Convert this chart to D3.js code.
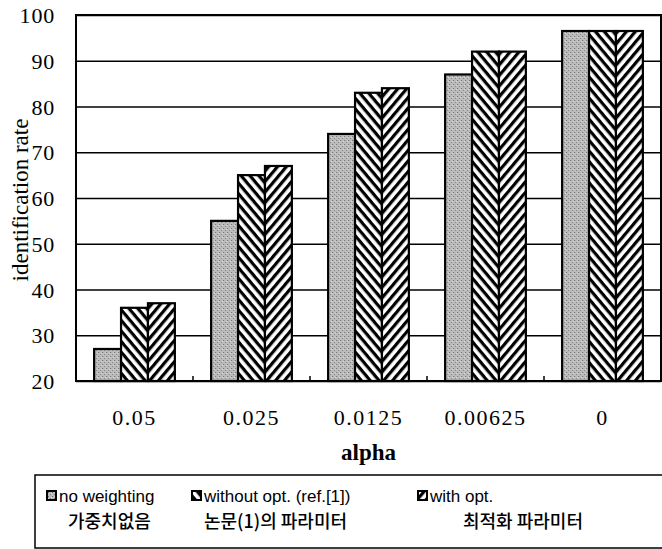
<!DOCTYPE html>
<html>
<head>
<meta charset="utf-8">
<script src="https://cdn.jsdelivr.net/npm/d3@7"></script>
<style>
  body { margin: 0; background: #fff; }
  svg { display: block; }
  .tick text { font-family: "Liberation Serif", "Times New Roman", serif; }
</style>
</head>
<body>
<div id="chart"></div>
<script>
// Data
var categories = ["0.05", "0.025", "0.0125", "0.00625", "0"];
var noWeighting = [27, 55, 74, 87, 96.5];
var withoutOpt = [36, 65, 83, 92, 96.5];
var withOpt = [37, 67, 84, 92, 96.5];
var yTicks = [20, 30, 40, 50, 60, 70, 80, 90, 100];
var seriesNames = ["noWeighting", "withoutOpt", "withOpt"];
var legendEn = ["no weighting", "without opt. (ref.[1])", "with opt."];
var legendKo = ["가중치없음", "논문(1)의 파라미터", "최적화 파라미터"];

// Setup
var W = 662, H = 549;
var plot = {left: 76, right: 661, top: 15, bottom: 381};

var svg = d3.select("#chart").append("svg")
    .attr("width", W)
    .attr("height", H);

// patterns
var defs = svg.append("defs");
function hatch(id, angle) {
    var p = defs.append("pattern")
        .attr("id", id)
        .attr("patternUnits", "userSpaceOnUse")
        .attr("width", 6.8)
        .attr("height", 6.8)
        .attr("patternTransform", "rotate(" + angle + ")");
    p.append("rect").attr("width", 6.8).attr("height", 6.8).attr("fill", "#fff");
    p.append("rect").attr("width", 6.8).attr("height", 3.2).attr("fill", "#000");
}
hatch("hatchBack", 50);    // "\" stripes
hatch("hatchFwd", -50);    // "/" stripes

// stippled grey like the scanned halftone
var dots = defs.append("pattern")
    .attr("id", "stipple")
    .attr("patternUnits", "userSpaceOnUse")
    .attr("width", 4)
    .attr("height", 4);
dots.append("rect").attr("width", 4).attr("height", 4).attr("fill", "#bcbcbc");
dots.append("rect").attr("x", 0).attr("y", 0).attr("width", 1).attr("height", 1).attr("fill", "#6e6e6e");
dots.append("rect").attr("x", 2).attr("y", 2).attr("width", 1).attr("height", 1).attr("fill", "#808080");
dots.append("rect").attr("x", 3).attr("y", 1).attr("width", 1).attr("height", 1).attr("fill", "#dedede");

var fills = {
    noWeighting: "url(#stipple)",
    withoutOpt: "url(#hatchBack)",
    withOpt: "url(#hatchFwd)"
};

// Scales
var x0 = d3.scaleBand()
    .domain(categories)
    .range([plot.left, plot.right])
    .paddingInner(0.31)
    .paddingOuter(0.155);

var x1 = d3.scaleBand()
    .domain(seriesNames)
    .range([0, x0.bandwidth()]);

var y = d3.scaleLinear()
    .domain([20, 100])
    .range([plot.bottom, plot.top]);

// Gridlines + y labels
var axisY = d3.axisLeft(y)
    .tickValues(yTicks)
    .tickSize(-(plot.right - plot.left))
    .tickPadding(21)
    .tickFormat(d3.format("d"));

svg.append("g")
    .attr("transform", "translate(" + plot.left + ",0)")
    .call(axisY)
    .call(function (g) {
        g.select(".domain").remove();
        g.selectAll(".tick line").attr("stroke", "#000").attr("stroke-width", 1.6);
        g.selectAll(".tick text")
            .attr("font-size", 22)
            .attr("letter-spacing", 0.8)
            .attr("fill", "#000")
            .attr("dy", "0.35em");
    });

// Bars
var rows = categories.map(function (c, i) {
    return {cat: c, noWeighting: noWeighting[i], withoutOpt: withoutOpt[i], withOpt: withOpt[i]};
});

var groups = svg.selectAll("g.group")
    .data(rows).enter().append("g")
    .attr("class", "group")
    .attr("transform", function (d) { return "translate(" + x0(d.cat) + ",0)"; });

groups.selectAll("rect")
    .data(function (d) {
        return seriesNames.map(function (s) { return {key: s, value: d[s]}; });
    })
    .enter().append("rect")
    .attr("x", function (d) { return x1(d.key); })
    .attr("y", function (d) { return y(d.value); })
    .attr("width", x1.bandwidth())
    .attr("height", function (d) { return y(20) - y(d.value); })
    .attr("fill", function (d) { return fills[d.key]; })
    .attr("stroke", "#000")
    .attr("stroke-width", 2.2);

// Plot border
svg.append("rect")
    .attr("x", plot.left)
    .attr("y", plot.top)
    .attr("width", plot.right - plot.left)
    .attr("height", plot.bottom - plot.top)
    .attr("fill", "none")
    .attr("stroke", "#000")
    .attr("stroke-width", 2);

// x axis: category labels and inward boundary ticks
var axisX = d3.axisBottom(x0).tickSize(0).tickPadding(28);
svg.append("g")
    .attr("transform", "translate(0," + plot.bottom + ")")
    .call(axisX)
    .call(function (g) {
        g.select(".domain").remove();
        g.selectAll(".tick text")
            .attr("font-size", 22)
            .attr("letter-spacing", 1.5)
            .attr("fill", "#000");
    });

var step = x0.step();
svg.selectAll("line.sep")
    .data(categories.slice(1)).enter().append("line")
    .attr("class", "sep")
    .attr("x1", function (d) { return x0(d) - (step - x0.bandwidth()) / 2; })
    .attr("x2", function (d) { return x0(d) - (step - x0.bandwidth()) / 2; })
    .attr("y1", plot.bottom)
    .attr("y2", plot.bottom - 5)
    .attr("stroke", "#000")
    .attr("stroke-width", 1.5);

// Axis titles
svg.append("text")
    .attr("x", (plot.left + plot.right) / 2)
    .attr("y", 460)
    .attr("text-anchor", "middle")
    .attr("font-family", "Liberation Serif, serif")
    .attr("font-weight", "bold")
    .attr("font-size", 23)
    .text("alpha");

svg.append("text")
    .attr("transform", "translate(28," + ((plot.top + plot.bottom) / 2 + 2) + ") rotate(-90)")
    .attr("text-anchor", "middle")
    .attr("font-family", "Liberation Serif, serif")
    .attr("font-size", 23)
    .text("identification rate");

// Legend
svg.append("rect")
    .attr("x", 35)
    .attr("y", 475)
    .attr("width", 640)
    .attr("height", 73)
    .attr("fill", "none")
    .attr("stroke", "#000")
    .attr("stroke-width", 1.5);

var legendX = [47, 192, 418];
var koX = [68, 204, 463];
var legend = svg.selectAll("g.legend")
    .data(seriesNames).enter().append("g")
    .attr("class", "legend");

legend.append("rect")
    .attr("x", function (d, i) { return legendX[i]; })
    .attr("y", 491)
    .attr("width", 9)
    .attr("height", 9)
    .attr("fill", function (d) { return fills[d]; })
    .attr("stroke", "#000")
    .attr("stroke-width", 2);

legend.append("text")
    .attr("x", function (d, i) { return legendX[i] + 12; })
    .attr("y", 502)
    .attr("font-family", "Liberation Sans, Arial, sans-serif")
    .attr("font-size", 17)
    .text(function (d, i) { return legendEn[i]; });

legend.append("text")
    .attr("x", function (d, i) { return koX[i]; })
    .attr("y", 528)
    .attr("font-family", "Noto Sans CJK KR, sans-serif")
    .attr("font-weight", 500)
    .attr("font-size", 18)
    .text(function (d, i) { return legendKo[i]; });
</script>
</body>
</html>
